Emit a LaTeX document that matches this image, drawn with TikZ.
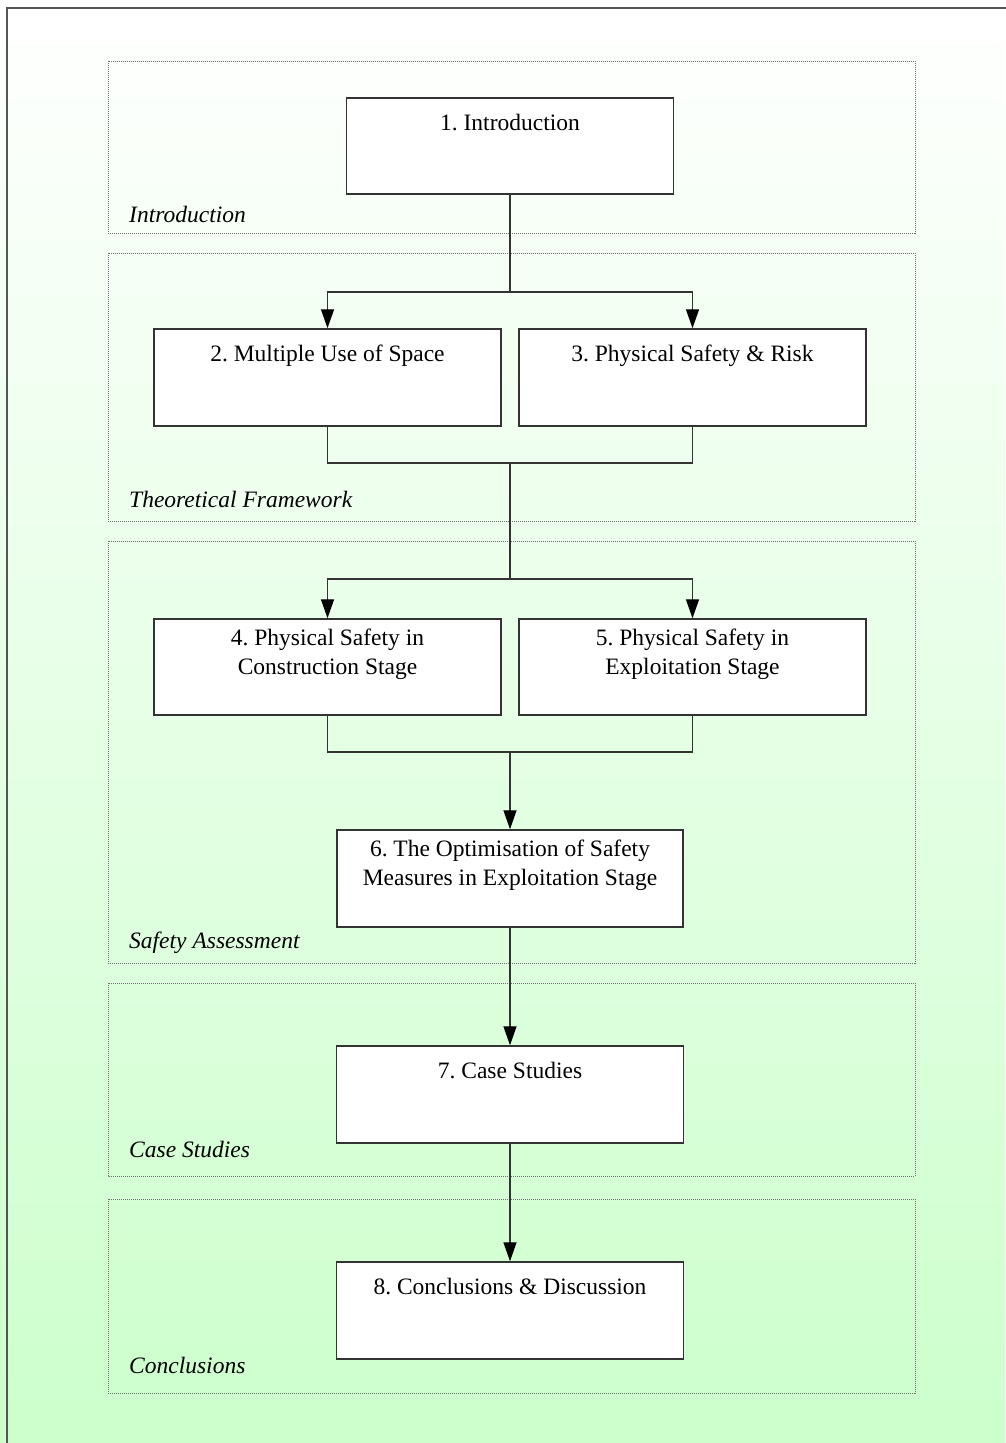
\documentclass[tikz,border=0pt]{standalone}
\usepackage{fontspec}
\setmainfont{Liberation Serif}
\usetikzlibrary{arrows.meta,calc}
\frenchspacing
\definecolor{paleGreen}{RGB}{204,255,204}
\definecolor{edgeGray}{RGB}{51,51,51}
\definecolor{frameGray}{RGB}{85,85,85}
\definecolor{groupGray}{RGB}{110,110,110}
\tikzset{
  stagebox/.style={draw=edgeGray, line width=1.5pt, fill=white, inner sep=0pt},
  stagetext/.style={anchor=base, align=center, inner sep=0pt,
    font=\fontsize{23.5}{28.5}\selectfont},
  groupbox/.style={draw=groupGray, line width=0.9pt, dash pattern=on 1pt off 1pt},
  grouplabel/.style={anchor=base west, inner sep=0pt,
    font=\fontsize{23.5}{28}\selectfont\itshape},
  link/.style={draw=edgeGray, line width=1.4pt},
  flow/.style={link, -{Triangle[length=19pt,width=13pt,color=black]}},
}
\begin{document}
\begin{tikzpicture}[x=1pt,y=-1pt]
  % page and background
  \useasboundingbox (0,0) rectangle (1005,1443);
  \shade[top color=white, bottom color=paleGreen] (0,0) rectangle (1005,1443);
  \draw[frameGray, line width=2pt] (7,1450) -- (7,8) -- (1012,8);

  % chapter groups
  \draw[groupbox] (108,61) rectangle (915,233);
  \draw[groupbox] (108,253) rectangle (915,521);
  \draw[groupbox] (108,541) rectangle (915,963);
  \draw[groupbox] (108,983) rectangle (915,1176);
  \draw[groupbox] (108,1199) rectangle (915,1393);
  \node[grouplabel] (gIntro) at (129,222) {Introduction};
  \node[grouplabel] (gTheory) at (129,507) {Theoretical Framework};
  \node[grouplabel] (gSafety) at (129,948) {Safety Assessment};
  \node[grouplabel] (gCases) at (129,1157) {Case Studies};
  \node[grouplabel] (gConcl) at (129,1373) {Conclusions};

  % chapter boxes
  \node[stagebox, minimum width=327pt, minimum height=96pt] (b1) at (510,146) {};
  \node[stagebox, minimum width=347pt, minimum height=97pt] (b2) at (327.5,377.5) {};
  \node[stagebox, minimum width=347pt, minimum height=97pt] (b3) at (692.5,377.5) {};
  \node[stagebox, minimum width=347pt, minimum height=96pt] (b4) at (327.5,667) {};
  \node[stagebox, minimum width=347pt, minimum height=96pt] (b5) at (692.5,667) {};
  \node[stagebox, minimum width=346pt, minimum height=97pt] (b6) at (510,878.5) {};
  \node[stagebox, minimum width=347pt, minimum height=97pt] (b7) at (510,1094.5) {};
  \node[stagebox, minimum width=347pt, minimum height=97pt] (b8) at (510,1310.5) {};

  \node[stagetext] (t1) at ($(b1.north)+(0,33)$) {1. Introduction};
  \node[stagetext] (t2) at ($(b2.north)+(0,33)$) {2. Multiple Use of Space};
  \node[stagetext] (t3) at ($(b3.north)+(0,33)$) {3. Physical Safety \& Risk};
  \node[stagetext, anchor=north] (t4) at ($(b4.north)+(0,10.5)$) {4. Physical Safety in\\Construction Stage};
  \node[stagetext, anchor=north] (t5) at ($(b5.north)+(0,10.5)$) {5. Physical Safety in\\Exploitation Stage};
  \node[stagetext, anchor=north] (t6) at ($(b6.north)+(0,10.5)$) {6. The Optimisation of Safety\\Measures in Exploitation Stage};
  \node[stagetext] (t7) at ($(b7.north)+(0,33)$) {7. Case Studies};
  \node[stagetext] (t8) at ($(b8.north)+(0,33)$) {8. Conclusions \& Discussion};

  % junction points
  \coordinate (j1) at (510,292);
  \coordinate (j2) at (510,463);
  \coordinate (j3) at (510,579);
  \coordinate (j4) at (510,752);

  % connectors
  \draw[link] (b1.south) -- (j1);
  \draw[flow] (j1) -| (b2.north);
  \draw[flow] (j1) -| (b3.north);
  \draw[link] (b2.south) |- (j2);
  \draw[link] (b3.south) |- (j2);
  \draw[link] (j2) -- (j3);
  \draw[flow] (j3) -| (b4.north);
  \draw[flow] (j3) -| (b5.north);
  \draw[link] (b4.south) |- (j4);
  \draw[link] (b5.south) |- (j4);
  \draw[flow] (j4) -- (b6.north);
  \draw[flow] (b6.south) -- (b7.north);
  \draw[flow] (b7.south) -- (b8.north);
\end{tikzpicture}
\end{document}
